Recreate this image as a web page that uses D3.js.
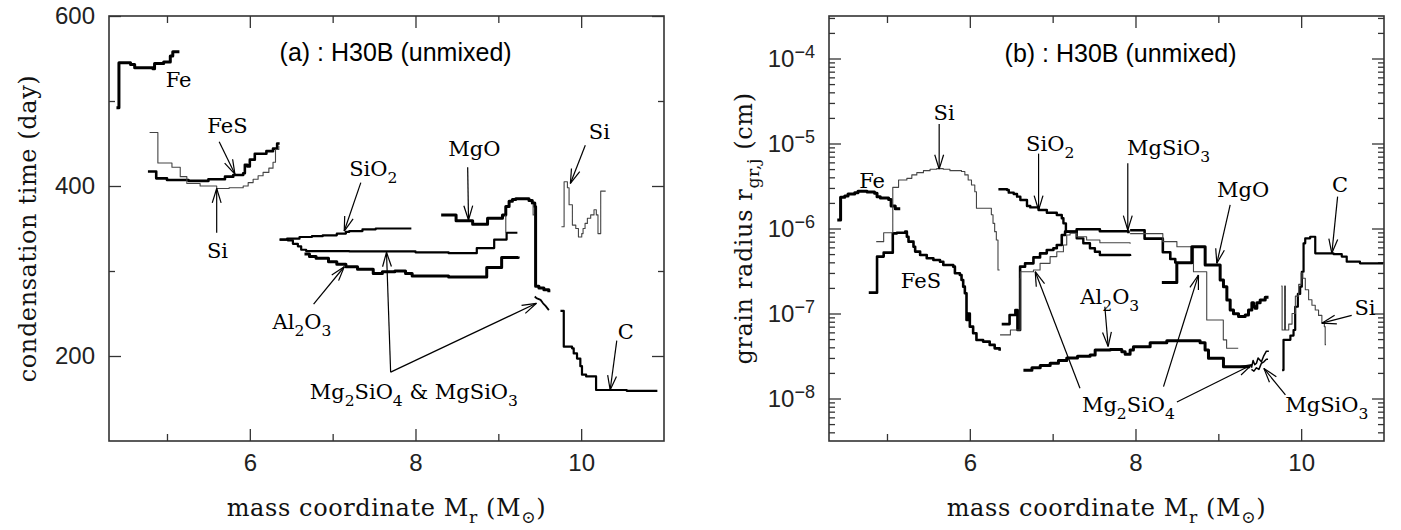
<!DOCTYPE html>
<html>
<head>
<meta charset="utf-8">
<script src="https://cdn.jsdelivr.net/npm/d3@7/dist/d3.min.js"></script>
<style>
  html, body { margin: 0; padding: 0; background: #fff; }
  svg { display: block; }
</style>
</head>
<body>
<svg id="chart" width="1401" height="530"></svg>
<script>
// ---------------------------------------------------------------
// Panel (a): condensation time (day) against mass coordinate (Msun)
// ---------------------------------------------------------------
const feA    = [[4.39,492],[4.42,545],[4.56,543],[4.61,539],[4.83,538],[4.85,544],[4.96,546],[5.04,553],[5.07,558],[5.15,558]];
const fesA   = [[4.77,417],[4.87,409],[5.00,407],[5.26,406],[5.50,408],[5.70,411],[5.80,413],[5.92,415],[5.94,425],[5.97,423],[6.00,431],[6.06,438],[6.20,441],[6.28,444],[6.33,450],[6.36,450]];
const siA    = [[4.79,463],[4.89,427],[5.06,422],[5.16,411],[5.24,403],[5.40,400],[5.60,397],[5.75,398],[5.92,400],[5.98,404],[6.04,408],[6.10,412],[6.16,416],[6.23,421],[6.28,428],[6.31,443],[6.35,447]];
const sio2A  = [[6.36,337],[6.45,338],[6.60,340],[6.75,341],[6.88,342],[7.05,344],[7.16,346],[7.20,347],[7.36,349],[7.52,350],[7.95,350]];
const mgsilA = [[6.36,337],[6.46,336],[6.52,332],[6.58,329],[6.62,325],[6.68,323.5],[7.20,323],[8.00,322],[8.40,321],[8.74,327],[8.95,337],[9.10,345],[9.23,345]];
const al2o3A = [[6.66,320],[6.72,317],[6.80,315],[6.95,311],[7.05,308],[7.16,305],[7.30,302],[7.49,297],[7.60,299],[7.75,300],[7.88,297],[7.96,294],[8.40,293],[8.78,293],[8.86,304],[9.04,316],[9.24,317]];
const mgoA   = [[8.31,366],[8.49,359],[8.69,355],[8.87,362],[9.05,366],[9.09,376],[9.13,382],[9.17,384],[9.21,385],[9.33,385],[9.37,383],[9.41,380],[9.44,376],[9.45,282],[9.49,280],[9.55,278],[9.61,275]];
const mgTailA = [[9.44,270],[9.46,268],[9.51,266],[9.54,262],[9.57,259],[9.61,254]];
const stubA1 = [[9.09,366],[9.09,345]];
const stubA2 = [[9.42,378],[9.42,366],[9.43,366]];
const cA     = [[9.75,253],[9.79,211],[9.89,209],[9.91,203],[9.95,197],[9.99,188],[10.01,178],[10.06,176],[10.18,160],[10.55,159],[10.92,159]];
const si2A   = [[9.762,352],[9.794,405],[9.834,398],[9.854,378],[9.894,354],[9.935,350],[9.967,340],[10.007,344],[10.023,350],[10.047,356],[10.075,362],[10.115,366],[10.155,372],[10.183,366],[10.203,344],[10.236,394],[10.296,394]];

// ---------------------------------------------------------------
// Panel (b): grain radius (cm) against mass coordinate (Msun)
// ---------------------------------------------------------------
const feB = [[4.40,1.26e-6],[4.44,2.33e-6],[4.49,2.41e-6],[4.53,2.55e-6],[4.61,2.64e-6],[4.65,2.74e-6],[4.76,2.69e-6],[4.85,2.59e-6],[4.88,2.37e-6],[4.92,2.29e-6],[5.02,2.20e-6],[5.05,1.84e-6],[5.10,1.71e-6],[5.16,1.71e-6]];
const fesB = [[4.78,1.76e-7],[4.88,4.67e-7],[4.96,5.2e-7],[5.07,8.77e-7],[5.12,8.93e-7],[5.22,9.18e-7],[5.24,8.0e-7],[5.26,7.0e-7],[5.32,6.1e-7],[5.34,5.35e-7],[5.40,4.88e-7],[5.48,4.46e-7],[5.56,4.26e-7],[5.64,4.07e-7],[5.68,3.72e-7],[5.80,3.56e-7],[5.82,2.97e-7],[5.88,2.84e-7],[5.90,2.48e-7],[5.92,2.07e-7],[5.94,1.73e-7],[5.96,8.4e-8],[5.98,1.0e-7],[6.00,7.0e-8],[6.04,5.85e-8],[6.08,4.88e-8],[6.16,4.67e-8],[6.24,4.27e-8],[6.30,3.89e-8],[6.36,3.65e-8]];
const siB = [[4.87,7.0e-7],[4.96,8.93e-7],[5.07,3.05e-6],[5.14,3.72e-6],[5.24,3.89e-6],[5.30,4.27e-6],[5.36,4.54e-6],[5.44,4.79e-6],[5.52,4.97e-6],[5.60,5.06e-6],[5.68,4.97e-6],[5.76,4.79e-6],[5.90,4.68e-6],[5.94,4.27e-6],[5.98,3.72e-6],[6.02,3.25e-6],[6.06,2.71e-6],[6.08,1.73e-6],[6.26,1.45e-6],[6.28,1.15e-6],[6.30,9.18e-7],[6.32,7.33e-7],[6.34,3.25e-7],[6.36,3.25e-7]];
const sio2B = [[6.345,2.89e-6],[6.45,2.84e-6],[6.47,2.64e-6],[6.53,2.55e-6],[6.57,2.37e-6],[6.61,2.16e-6],[6.69,1.84e-6],[6.73,1.77e-6],[6.83,1.65e-6],[6.93,1.53e-6],[7.05,1.44e-6],[7.11,1.32e-6],[7.13,1.15e-6],[7.16,9.18e-7],[7.29,7.66e-7],[7.37,6.7e-7],[7.45,5.85e-7],[7.51,5.33e-7],[7.57,4.88e-7],[7.935,4.75e-7]];
const mgsio3B = [[6.385,7.5e-8],[6.48,9.6e-8],[6.55,1.1e-7],[6.575,6.4e-8],[6.607,3.56e-7],[6.667,3.89e-7],[6.768,4.57e-7],[6.848,5.1e-7],[6.929,5.58e-7],[7.009,5.85e-7],[7.05,6.4e-7],[7.11,8.4e-7],[7.15,9.18e-7],[7.29,9.8e-7],[7.57,9.3e-7],[7.915,8.77e-7]];
const mgsio3B2 = [[7.935,9.55e-7],[8.11,7.6e-7],[8.33,5.25e-7],[8.42,4.37e-7],[8.48,3.98e-7],[8.50,3.98e-7]];
const mg2sio4B = [[6.365,5.6e-8],[6.49,6.4e-8],[6.607,2.6e-7],[6.61,3.1e-7],[6.768,3.25e-7],[6.848,3.89e-7],[6.969,4.67e-7],[7.05,5.33e-7],[7.13,6.4e-7],[7.17,8.4e-7],[7.21,8.8e-7],[7.29,8.0e-7],[7.41,7.33e-7],[7.57,6.8e-7],[7.935,6.6e-7]];
const mg2sio4B2 = [[7.935,8.7e-7],[8.33,7.0e-7],[8.50,6.1e-7],[8.70,3.1e-7],[8.86,8.4e-8],[9.06,4.9e-8],[9.10,3.9e-8],[9.24,3.9e-8]];
const al2o3B = [[6.647,2.15e-8],[6.75,2.3e-8],[6.85,2.45e-8],[6.97,2.6e-8],[7.07,2.8e-8],[7.17,3.0e-8],[7.30,3.15e-8],[7.452,3.25e-8],[7.513,3.72e-8],[7.694,3.78e-8],[7.835,3.56e-8],[7.875,3.31e-8],[7.935,3.72e-8],[7.975,4.07e-8],[8.177,4.54e-8],[8.378,4.79e-8],[8.78,4.54e-8],[8.84,3.72e-8],[8.881,2.97e-8],[9.062,2.37e-8],[9.384,2.37e-8]];
const mgoB = [[8.318,2.31e-7],[8.499,3.96e-7],[8.68,6.1e-7],[8.841,3.72e-7],[9.022,2.48e-7],[9.062,2.07e-7],[9.103,1.44e-7],[9.143,1.1e-7],[9.183,9.9e-8],[9.244,9.2e-8],[9.324,9.6e-8],[9.364,1.1e-7],[9.405,1.34e-7],[9.425,1.2e-7],[9.445,1.15e-7],[9.465,1.34e-7],[9.505,1.44e-7],[9.566,1.55e-7],[9.606,1.55e-7]];
const cB = [[9.77,2.16e-8],[9.787,4.9e-8],[9.87,5.5e-8],[9.908,6.4e-8],[9.928,1.2e-7],[9.96,1.7e-7],[9.988,2.07e-7],[10.008,3.1e-7],[10.029,6.7e-7],[10.049,7.66e-7],[10.109,8.0e-7],[10.17,5.1e-7],[10.39,5.0e-7],[10.49,4.67e-7],[10.55,4.07e-7],[10.71,3.89e-7],[10.99,3.89e-7]];
const si2B = [[9.76,2.1e-7],[9.77,6.4e-8],[9.80,2.1e-7],[9.81,6.4e-8],[9.85,7.5e-8],[9.89,1.0e-7],[9.93,1.6e-7],[9.97,2.2e-7],[10.00,3.0e-7],[10.02,2.6e-7],[10.05,1.9e-7],[10.09,1.45e-7],[10.13,1.25e-7],[10.17,1.1e-7],[10.21,9.5e-8],[10.25,7.7e-8],[10.28,7.0e-8],[10.29,4.3e-8],[10.30,4.3e-8]];
const mgsio3TailB = [[9.40,2.3e-8],[9.42,2.8e-8],[9.44,2.5e-8],[9.46,2.6e-8],[9.48,3.0e-8],[9.52,2.7e-8],[9.55,3.2e-8],[9.58,3.6e-8],[9.61,3.6e-8]];
const mg2sio4TailB = [[9.40,2.2e-8],[9.43,2.1e-8],[9.46,2.3e-8],[9.49,2.2e-8],[9.52,2.6e-8],[9.55,2.7e-8],[9.58,2.9e-8],[9.60,2.9e-8]];

// axis ticks
const xMajorTicks = [6, 8, 10];
const xMinorTicks = [5, 7, 9];
const yMajorTicksA = [200, 400, 600];
const yMinorTicksA = [300, 500];
const yMajorTicksB = [1e-8, 1e-7, 1e-6, 1e-5, 1e-4];

// species labels with their arrows (label centre, then arrow start -> tip)
const labelsA = [
  { text: "Fe",  at: [5.14, 525], arrows: [] },
  { text: "FeS", at: [5.73, 471], arrows: [[5.63, 452, 5.82, 414]] },
  { text: "Si",  at: [5.61, 323], arrows: [[5.60, 345, 5.60, 397]] },
  { text: "SiO_2", at: [7.49, 420], arrows: [[7.34, 404, 7.14, 347]] },
  { text: "MgO", at: [8.71, 444], arrows: [[8.63, 422, 8.64, 360]] },
  { text: "Si",  at: [10.22, 463], arrows: [[10.05, 448, 9.87, 403]] },
  { text: "Al_2O_3", at: [6.63, 240], arrows: [[6.77, 261, 7.14, 305]] },
  { text: "Mg_2SiO_4 & MgSiO_3", at: [7.98, 158], arrows: [[7.70, 181, 7.65, 322], [7.70, 181, 9.46, 262]] },
  { text: "C", at: [10.54, 228], arrows: [[10.43, 218, 10.35, 160]] }
];
const labelsB = [
  { text: "Fe",  at: [4.82, 3.6e-6], arrows: [] },
  { text: "Si",  at: [5.69, 2.3e-5], arrows: [[5.63, 1.7e-5, 5.63, 5.0e-6]] },
  { text: "FeS", at: [5.41, 2.4e-7], arrows: [] },
  { text: "SiO_2", at: [6.97, 1.0e-5], arrows: [[6.83, 7.6e-6, 6.83, 1.65e-6]] },
  { text: "MgSiO_3", at: [8.40, 8.8e-6], arrows: [[7.907, 5.85e-6, 7.907, 9.6e-7]] },
  { text: "MgO", at: [9.30, 2.84e-6], arrows: [[9.143, 1.9e-6, 8.982, 3.9e-7]] },
  { text: "C",   at: [10.47, 3.25e-6], arrows: [[10.44, 2.37e-6, 10.37, 5.1e-7]] },
  { text: "Al_2O_3", at: [7.69, 1.58e-7], arrows: [[7.63, 1.2e-7, 7.67, 4.1e-8]] },
  { text: "Si",  at: [10.77, 1.15e-7], arrows: [[10.61, 9.5e-8, 10.25, 7.7e-8]] },
  { text: "Mg_2SiO_4", at: [7.915, 8.4e-9], arrows: [[7.33, 1.32e-8, 6.79, 3.1e-7], [8.338, 1.38e-8, 8.76, 2.84e-7], [8.5, 9.1e-9, 9.405, 2.5e-8]] },
  { text: "MgSiO_3", at: [10.31, 8.4e-9], arrows: [[9.81, 1.1e-8, 9.55, 2.26e-8]] }
];

// ---------------------------------------------------------------
const svg = d3.select("#chart");
const SERIF = "'DejaVu Serif', serif";
const SANS = "'Liberation Sans', Arial, sans-serif";
const TOP = 16, BOTTOM = 441;

const xA = d3.scaleLinear().domain([4.3, 11]).range([109, 664]);
const yA = d3.scaleLinear().domain([100, 600]).range([BOTTOM, TOP]);
const xB = d3.scaleLinear().domain([4.3, 11]).range([829, 1384]);
const yB = d3.scaleLog().domain([Math.pow(10, -8.5), Math.pow(10, -3.5)]).range([BOTTOM, TOP]);

// Text with simple markup: _x / _{..} for subscripts, ^{..} for superscripts
function rich(sel, str, size, subScale = 0.72, shift = 0.32) {
  const parts = [];
  let i = 0, buf = "";
  while (i < str.length) {
    const c = str[i];
    if (c === "_" || c === "^") {
      if (buf) { parts.push({ t: buf, k: 0 }); buf = ""; }
      let t;
      if (str[i + 1] === "{") { const j = str.indexOf("}", i); t = str.slice(i + 2, j); i = j + 1; }
      else { t = str[i + 1]; i += 2; }
      parts.push({ t, k: c === "_" ? 1 : -1.4 });
    } else { buf += c; i++; }
  }
  if (buf) parts.push({ t: buf, k: 0 });
  let cur = 0;
  parts.forEach(p => {
    const target = p.k * shift * size;
    const ts = sel.append("tspan").text(p.t).attr("dy", target - cur);
    if (p.k) ts.attr("font-size", size * subScale);
    cur = target;
  });
}

function arrow(g, x0, y0, x1, y1) {
  const a = Math.atan2(y1 - y0, x1 - x0);
  const L = 15, spread = 0.30;
  g.append("line").attr("x1", x0).attr("y1", y0).attr("x2", x1).attr("y2", y1);
  [-1, 1].forEach(s => {
    g.append("line")
      .attr("x1", x1).attr("y1", y1)
      .attr("x2", x1 - L * Math.cos(a + s * spread))
      .attr("y2", y1 - L * Math.sin(a + s * spread));
  });
}

function styleAxis(g, size) {
  g.select(".domain").remove();
  g.selectAll(".tick line").attr("stroke", "#333").attr("stroke-width", 1.3);
  g.selectAll("text").attr("font-family", SANS).attr("font-size", size).attr("fill", "#222");
}

function drawFrame(g, x, y, yMajor, yMinor, yFormat) {
  const [x0, x1] = x.range();
  const [yb, yt] = y.range();
  // bottom / top
  const bM = g.append("g").attr("transform", `translate(0,${yb})`)
    .call(d3.axisBottom(x).tickValues(xMajorTicks).tickSizeInner(-12).tickSizeOuter(0).tickPadding(13).tickFormat(d3.format("d")));
  styleAxis(bM, 24);
  const bm = g.append("g").attr("transform", `translate(0,${yb})`)
    .call(d3.axisBottom(x).tickValues(xMinorTicks).tickSizeInner(-7).tickSizeOuter(0).tickFormat(""));
  styleAxis(bm, 24);
  const tM = g.append("g").attr("transform", `translate(0,${yt})`)
    .call(d3.axisTop(x).tickValues(xMajorTicks).tickSizeInner(-12).tickSizeOuter(0).tickFormat(""));
  styleAxis(tM, 24);
  const tm = g.append("g").attr("transform", `translate(0,${yt})`)
    .call(d3.axisTop(x).tickValues(xMinorTicks).tickSizeInner(-7).tickSizeOuter(0).tickFormat(""));
  styleAxis(tm, 24);
  // left / right
  const lM = g.append("g").attr("transform", `translate(${x0},0)`)
    .call(d3.axisLeft(y).tickValues(yMajor).tickSizeInner(-12).tickSizeOuter(0).tickPadding(14).tickFormat(yFormat));
  styleAxis(lM, 24);
  const lm = g.append("g").attr("transform", `translate(${x0},0)`)
    .call(d3.axisLeft(y).tickValues(yMinor).tickSizeInner(-6).tickSizeOuter(0).tickFormat(""));
  styleAxis(lm, 24);
  const rM = g.append("g").attr("transform", `translate(${x1},0)`)
    .call(d3.axisRight(y).tickValues(yMajor).tickSizeInner(-12).tickSizeOuter(0).tickFormat(""));
  styleAxis(rM, 24);
  const rm = g.append("g").attr("transform", `translate(${x1},0)`)
    .call(d3.axisRight(y).tickValues(yMinor).tickSizeInner(-6).tickSizeOuter(0).tickFormat(""));
  styleAxis(rm, 24);
  g.append("rect").attr("x", x0).attr("y", yt).attr("width", x1 - x0).attr("height", yb - yt)
    .attr("fill", "none").attr("stroke", "#333").attr("stroke-width", 1.6);
  return lM;
}

function drawSeries(g, x, y, list) {
  list.forEach(s => {
    const line = d3.line().x(d => x(d[0])).y(d => y(d[1]))
      .curve(s.linear ? d3.curveLinear : d3.curveStepAfter);
    g.append("path").datum(s.data).attr("d", line)
      .attr("fill", "none").attr("stroke", s.w < 1.5 ? "#444" : "#000")
      .attr("stroke-width", s.w).attr("stroke-linejoin", "round").attr("stroke-linecap", "butt");
  });
}

function drawLabels(g, x, y, list) {
  const ga = g.append("g").attr("stroke", "#000").attr("stroke-width", 1.2);
  list.forEach(l => {
    const t = g.append("text")
      .attr("x", x(l.at[0])).attr("y", y(l.at[1]) + 7)
      .attr("text-anchor", "middle").attr("font-family", SERIF)
      .attr("font-size", 21).attr("fill", "#000");
    rich(t, l.text, 21, 0.74, 0.34);
    l.arrows.forEach(a => arrow(ga, x(a[0]), y(a[1]), x(a[2]), y(a[3])));
  });
}

// ---------------- panel (a)
const gA = svg.append("g");
drawFrame(gA, xA, yA, yMajorTicksA, yMinorTicksA, d3.format("d"));
drawSeries(gA, xA, yA, [
  { data: feA, w: 3 }, { data: fesA, w: 2.6 }, { data: siA, w: 1.1 },
  { data: sio2A, w: 2.2 }, { data: mgsilA, w: 2.2 }, { data: al2o3A, w: 3 },
  { data: mgoA, w: 3 }, { data: mgTailA, w: 1.8, linear: true },
  { data: stubA1, w: 1.1 }, { data: stubA2, w: 1.1 },
  { data: cA, w: 2.2 }, { data: si2A, w: 1.1 }
]);
drawLabels(gA, xA, yA, labelsA);
gA.append("text").attr("x", xA(7.76)).attr("y", yA(558) + 9)
  .attr("text-anchor", "middle").attr("font-family", SANS).attr("font-size", 25)
  .text("(a) : H30B (unmixed)");

// ---------------- panel (b)
const gB = svg.append("g");
const minorB = [];
for (let e = -9; e <= -4; e++) for (let k = 2; k <= 9; k++) {
  const v = k * Math.pow(10, e);
  if (v > yB.domain()[0] && v < yB.domain()[1]) minorB.push(v);
}
const leftB = drawFrame(gB, xB, yB, yMajorTicksB, minorB, () => "");
leftB.selectAll(".tick text").each(function (d) {
  const t = d3.select(this);
  t.text(null);
  t.append("tspan").text("10");
  t.append("tspan").attr("dy", -9).attr("font-size", 18).text("\u2212" + Math.round(-Math.log10(d)));
});
drawSeries(gB, xB, yB, [
  { data: feB, w: 3 }, { data: fesB, w: 2.6 }, { data: siB, w: 1.1 },
  { data: sio2B, w: 2.4 }, { data: mgsio3B, w: 2.6 }, { data: mgsio3B2, w: 2.6 },
  { data: mg2sio4B, w: 1.1 }, { data: mg2sio4B2, w: 1.1 },
  { data: al2o3B, w: 3 }, { data: mgoB, w: 3 }, { data: cB, w: 2.2 }, { data: si2B, w: 1.1 },
  { data: mgsio3TailB, w: 1.5, linear: true }, { data: mg2sio4TailB, w: 1.5, linear: true }
]);
drawLabels(gB, xB, yB, labelsB);
gB.append("text").attr("x", xB(7.82)).attr("y", yB(1.15e-4) + 9)
  .attr("text-anchor", "middle").attr("font-family", SANS).attr("font-size", 25)
  .text("(b) : H30B (unmixed)");

// ---------------- axis titles
function axisTitle(x, y, str, rotate) {
  const t = svg.append("text")
    .attr("transform", `translate(${x},${y})` + (rotate ? " rotate(-90)" : ""))
    .attr("text-anchor", "middle").attr("font-family", SERIF)
    .attr("font-size", 24).attr("letter-spacing", 0.6).attr("fill", "#111");
  rich(t, str, 24, 0.72, 0.3);
}
axisTitle((xA.range()[0] + xA.range()[1]) / 2, 516, "mass coordinate M_r (M_\u2299)", false);
axisTitle((xB.range()[0] + xB.range()[1]) / 2, 516, "mass coordinate M_r (M_\u2299)", false);
axisTitle(36, (TOP + BOTTOM) / 2, "condensation time (day)", true);
axisTitle(752, (TOP + BOTTOM) / 2, "grain radius  r_{gr,j}  (cm)", true);
</script>
</body>
</html>
